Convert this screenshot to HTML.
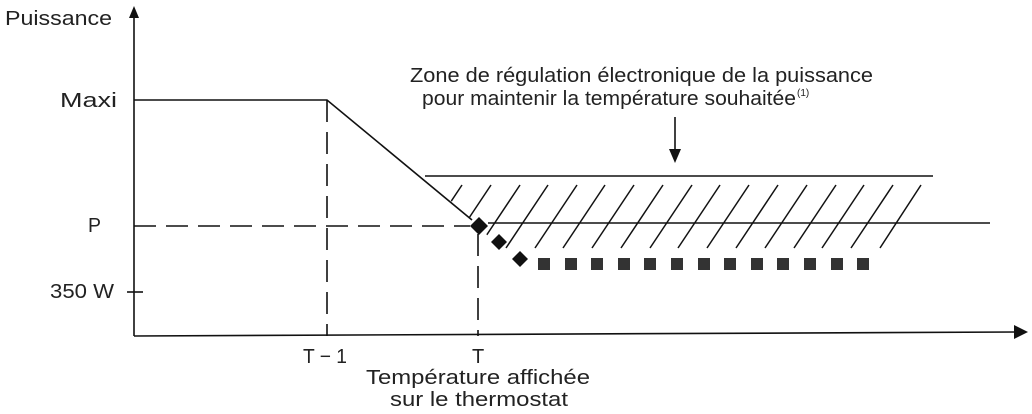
<!DOCTYPE html>
<html><head><meta charset="utf-8"><style>
html,body{margin:0;padding:0;background:#fff}
svg{display:block}
text{font-family:"Liberation Sans",sans-serif;font-size:20px;fill:#222}
text.sup{font-size:10px}
</style></head><body>
<svg width="1032" height="414" viewBox="0 0 1032 414" xmlns="http://www.w3.org/2000/svg">
<defs>
<clipPath id="hc"><polygon points="448,184 950,184 950,252 505,252 448,198"/></clipPath>
</defs>
<g stroke="#111" stroke-width="1.6" fill="none">
<line x1="134" y1="14" x2="134" y2="336"/>
<line x1="134" y1="336" x2="1016" y2="332"/>
<line x1="127" y1="292" x2="143" y2="292"/>
<polyline points="134,100 327,100 472,220"/>
<line x1="134" y1="226" x2="470" y2="226" stroke-dasharray="22,10"/>
<line x1="327" y1="100" x2="327" y2="336" stroke-dasharray="22,10"/>
<line x1="478" y1="234" x2="478" y2="336" stroke-dasharray="22,10"/>
<line x1="425" y1="176" x2="933" y2="176"/>
<line x1="488" y1="223" x2="990" y2="223"/>
<g clip-path="url(#hc)" stroke-width="1.5">
<line x1="462" y1="185" x2="420" y2="248"/>
<line x1="491" y1="185" x2="449" y2="248"/>
<line x1="520" y1="185" x2="478" y2="248"/>
<line x1="548" y1="185" x2="506" y2="248"/>
<line x1="577" y1="185" x2="535" y2="248"/>
<line x1="605" y1="185" x2="563" y2="248"/>
<line x1="634" y1="185" x2="592" y2="248"/>
<line x1="663" y1="185" x2="621" y2="248"/>
<line x1="692" y1="185" x2="650" y2="248"/>
<line x1="720" y1="185" x2="678" y2="248"/>
<line x1="749" y1="185" x2="707" y2="248"/>
<line x1="778" y1="185" x2="736" y2="248"/>
<line x1="807" y1="185" x2="765" y2="248"/>
<line x1="836" y1="185" x2="794" y2="248"/>
<line x1="864" y1="185" x2="822" y2="248"/>
<line x1="893" y1="185" x2="851" y2="248"/>
<line x1="921" y1="185" x2="880" y2="248"/>
</g>
<line x1="675" y1="117" x2="675" y2="150"/>
</g>
<polygon points="134,6 129,18 139,18" fill="#111"/>
<polygon points="1028,332 1014,325 1014,339" fill="#111"/>
<polygon points="675,163 669,149 681,149" fill="#111"/>
<g fill="#111">
<polygon points="479,217 488,226 479,235 470,226"/>
<polygon points="499,234 507,242 499,250 491,242"/>
<polygon points="520,251 528,259 520,267 512,259"/>
</g>
<g fill="#333">
<rect x="538" y="258" width="12" height="12"/><rect x="565" y="258" width="12" height="12"/>
<rect x="591" y="258" width="12" height="12"/><rect x="618" y="258" width="12" height="12"/>
<rect x="644" y="258" width="12" height="12"/><rect x="671" y="258" width="12" height="12"/>
<rect x="698" y="258" width="12" height="12"/><rect x="724" y="258" width="12" height="12"/>
<rect x="751" y="258" width="12" height="12"/><rect x="777" y="258" width="12" height="12"/>
<rect x="804" y="258" width="12" height="12"/><rect x="831" y="258" width="12" height="12"/>
<rect x="857" y="258" width="12" height="12"/>
</g>
<text x="5" y="25" textLength="107" lengthAdjust="spacingAndGlyphs">Puissance</text>
<text x="60" y="107" textLength="57" lengthAdjust="spacingAndGlyphs">Maxi</text>
<text x="88" y="232" textLength="13" lengthAdjust="spacingAndGlyphs">P</text>
<text x="50" y="298" textLength="64" lengthAdjust="spacingAndGlyphs">350 W</text>
<text x="303" y="363" textLength="44" lengthAdjust="spacingAndGlyphs">T − 1</text>
<text x="472" y="363">T</text>
<text x="366" y="384" textLength="224" lengthAdjust="spacingAndGlyphs">Température affichée</text>
<text x="390" y="406" textLength="178" lengthAdjust="spacingAndGlyphs">sur le thermostat</text>
<text x="410" y="82" textLength="463" lengthAdjust="spacingAndGlyphs">Zone de régulation électronique de la puissance</text>
<text x="422" y="105" textLength="374" lengthAdjust="spacingAndGlyphs">pour maintenir la température souhaitée</text>
<text class="sup" x="797" y="96">(1)</text>
</svg>
</body></html>
